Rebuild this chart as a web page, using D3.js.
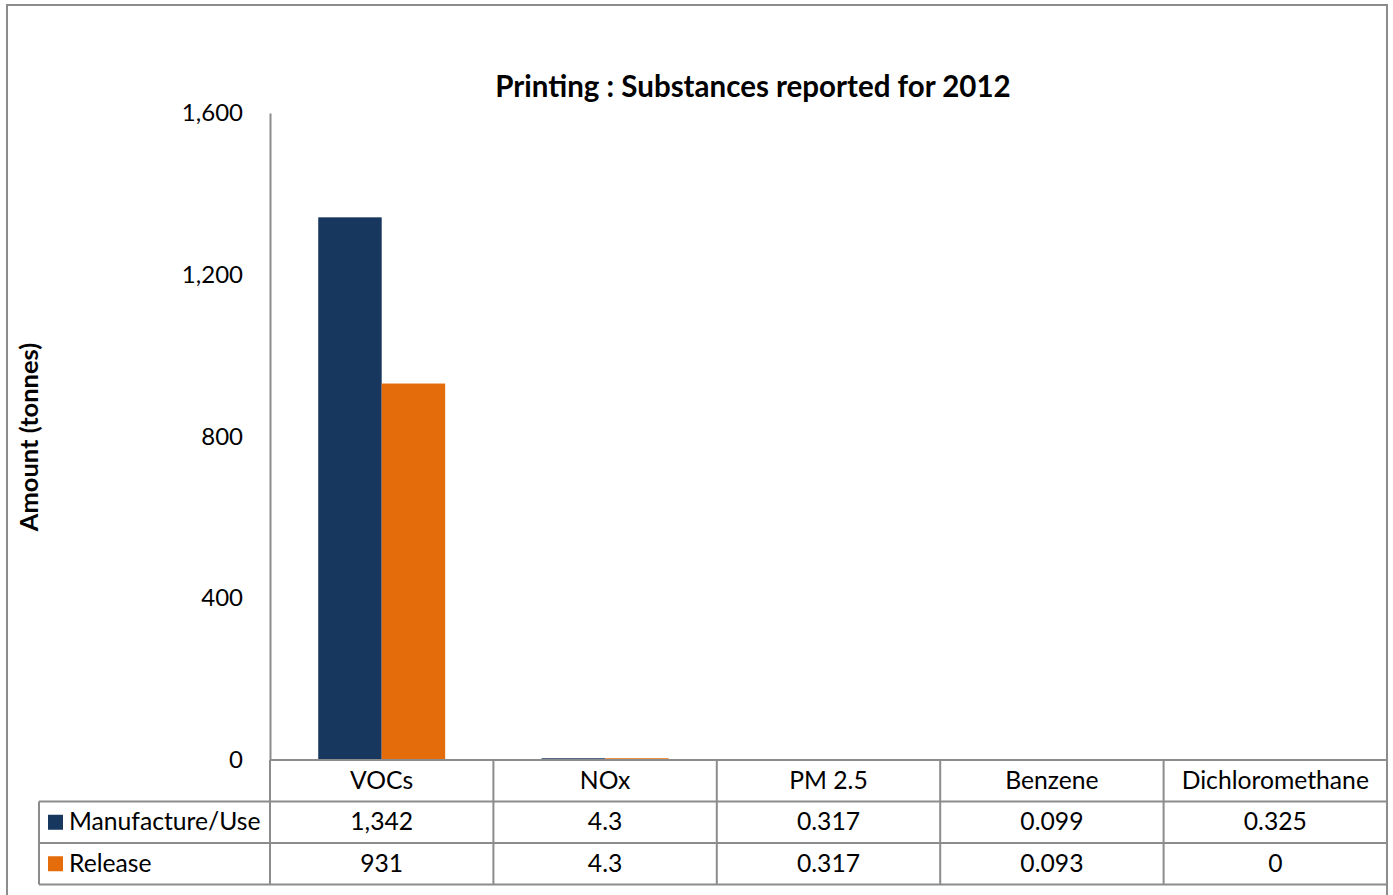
<!DOCTYPE html>
<html>
<head>
<meta charset="utf-8">
<script src="https://cdn.jsdelivr.net/npm/d3@7"></script>
<style>
  html, body { margin: 0; padding: 0; background: #fff; }
  svg { display: block; }
  text { font-family: Lato, "Open Sans", sans-serif; fill: #000; }
</style>
</head>
<body>
<svg id="chart" width="1393" height="895"></svg>
<script>
// Substances reported by the printing sector, 2012 (tonnes)
const categories = ["VOCs", "NOx", "PM 2.5", "Benzene", "Dichloromethane"];
const seriesNames = ["Manufacture/Use", "Release"];
const manufactureUse = [1342, 4.3, 0.317, 0.099, 0.325];
const release = [931, 4.3, 0.317, 0.093, 0];
const manufactureLabels = ["1,342", "4.3", "0.317", "0.099", "0.325"];
const releaseLabels = ["931", "4.3", "0.317", "0.093", "0"];
const yTicks = [0, 400, 800, 1200, 1600];
const colors = ["#17375E", "#E46C0A"];

const svg = d3.select("#chart");
const fontStack = 'Lato, "Open Sans", sans-serif';

const plot = { left: 270, right: 1387, top: 113, bottom: 760 };
const rowH = 41.5;
const legendLeft = 39;
const gridColor = "#8c8c8c";

// outer frame
svg.append("rect")
  .attr("x", 7).attr("y", 5)
  .attr("width", 1380).attr("height", 900)
  .attr("fill", "none").attr("stroke", gridColor).attr("stroke-width", 2);

const x = d3.scaleBand().domain(categories).range([plot.left, plot.right]).paddingInner(0).paddingOuter(0);
const inner = d3.scaleBand().domain(seriesNames).range([0, x.bandwidth()]).paddingInner(0).paddingOuter(0.76);
const y = d3.scaleLinear().domain([0, 1600]).range([plot.bottom, plot.top]);

// title
svg.append("text")
  .attr("x", 753).attr("y", 97)
  .attr("text-anchor", "middle")
  .style("font-weight", "bold").style("font-size", "29.5px")
  .text("Printing : Substances reported for 2012");

// y axis title
svg.append("text")
  .attr("transform", "translate(38,437) rotate(-90)")
  .attr("text-anchor", "middle")
  .style("font-weight", "bold").style("font-size", "25.5px")
  .text("Amount (tonnes)");

// y axis
const yAxis = d3.axisLeft(y).tickValues(yTicks).tickSize(0).tickPadding(27).tickFormat(d3.format(","));
const gy = svg.append("g").attr("transform", `translate(${plot.left},0)`).call(yAxis);
gy.select(".domain").attr("stroke", gridColor).attr("stroke-width", 2);
gy.selectAll(".tick text").style("font-size", "24px").style("font-family", fontStack).attr("fill", "#000");

// bars
const series = [manufactureUse, release];
series.forEach((vals, si) => {
  svg.append("g").selectAll("rect")
    .data(categories.map((c, i) => ({ c, v: vals[i] })))
    .join("rect")
    .attr("x", d => x(d.c) + inner(seriesNames[si]))
    .attr("width", inner.bandwidth())
    .attr("y", d => y(d.v))
    .attr("height", d => y(0) - y(d.v))
    .attr("fill", colors[si]);
});

// data table
const tbl = svg.append("g");
const rowTops = [plot.bottom, plot.bottom + rowH, plot.bottom + 2 * rowH];
const tableBottom = plot.bottom + 3 * rowH;

// horizontal lines
tbl.append("line").attr("x1", plot.left).attr("x2", plot.right).attr("y1", rowTops[0]).attr("y2", rowTops[0]);
[rowTops[1], rowTops[2], tableBottom].forEach(yy => {
  tbl.append("line").attr("x1", legendLeft).attr("x2", plot.right).attr("y1", yy).attr("y2", yy);
});
// vertical lines
categories.forEach(c => {
  tbl.append("line").attr("x1", x(c)).attr("x2", x(c)).attr("y1", plot.bottom).attr("y2", tableBottom);
});
tbl.append("line").attr("x1", plot.right).attr("x2", plot.right).attr("y1", plot.bottom).attr("y2", tableBottom);
tbl.append("line").attr("x1", legendLeft).attr("x2", legendLeft).attr("y1", rowTops[1]).attr("y2", tableBottom);
tbl.selectAll("line").attr("stroke", gridColor).attr("stroke-width", 2);

const cellFont = "24.7px";

// category headers
tbl.selectAll("text.cat").data(categories).join("text")
  .attr("class", "cat")
  .attr("x", d => x(d) + x.bandwidth() / 2)
  .attr("y", rowTops[0] + rowH / 2 + 8)
  .attr("text-anchor", "middle")
  .style("font-size", cellFont)
  .text(d => d);

// value rows with legend keys
const rowLabels = [manufactureLabels, releaseLabels];
rowLabels.forEach((labels, ri) => {
  const top = rowTops[ri + 1];
  tbl.append("rect")
    .attr("x", 48).attr("y", top + rowH / 2 - 7.5)
    .attr("width", 15).attr("height", 15)
    .attr("fill", colors[ri]);
  tbl.append("text")
    .attr("x", 69).attr("y", top + rowH / 2 + 8)
    .style("font-size", cellFont)
    .text(seriesNames[ri]);
  tbl.selectAll(null).data(labels).join("text")
    .attr("x", (d, i) => x(categories[i]) + x.bandwidth() / 2)
    .attr("y", top + rowH / 2 + 8)
    .attr("text-anchor", "middle")
    .style("font-size", cellFont)
    .text(d => d);
});
</script>
</body>
</html>
